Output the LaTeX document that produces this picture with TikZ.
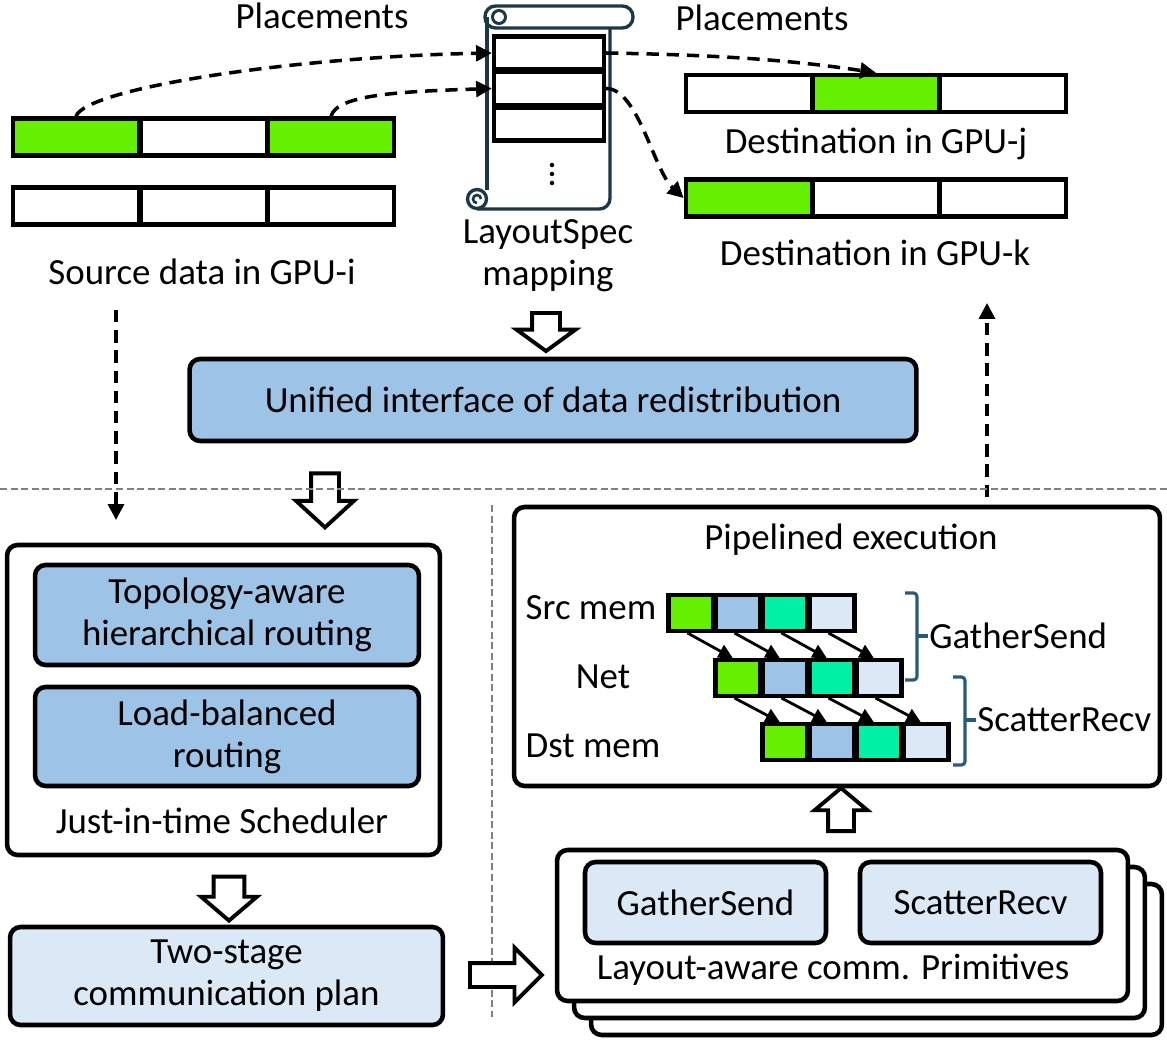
\documentclass[tikz,border=0pt]{standalone}
\usepackage{fontspec}
\setmainfont{Carlito}
\usepackage{tikz}
\usetikzlibrary{shapes,shapes.arrows,arrows.meta,positioning,calc}

\definecolor{gpugreen}{RGB}{100,240,0}
\definecolor{midblue}{RGB}{157,195,230}
\definecolor{paleblue}{RGB}{219,232,245}
\definecolor{mintgreen}{RGB}{0,240,165}
\definecolor{scrollink}{RGB}{28,56,70}
\definecolor{bracecol}{RGB}{38,92,122}

\begin{document}
\begin{tikzpicture}[
        x=0.02cm, y=-0.02cm,
        font=\fontsize{21}{24}\selectfont,
        cell/.style={rectangle, draw, line width=2.5pt, minimum width=2.53cm, minimum height=0.74cm, inner sep=0pt},
        slot/.style={rectangle, draw, line width=2.4pt, minimum width=2.2cm, minimum height=0.66cm, inner sep=0pt},
        pcell/.style={rectangle, draw, line width=2.3pt, minimum width=0.9cm, minimum height=0.72cm, inner sep=0pt},
        panel/.style={rectangle, draw, rounded corners=6pt, line width=2.6pt, fill=white, align=center},
        bluebox/.style={panel, fill=midblue},
        palebox/.style={panel, fill=paleblue},
        flow/.style={draw, line width=2pt, dash pattern=on 7pt off 4.5pt, -{Triangle[length=9pt, width=9pt]}},
        divider/.style={draw, black!50, line width=1.1pt, dash pattern=on 4pt off 2pt},
        hollow/.style={single arrow, draw, line width=2.2pt, fill=white,
                single arrow head indent=0pt},
        bracket/.style={draw, bracecol, line width=1.8pt, rounded corners=2pt},
        pipe/.style={draw, line width=1.6pt, -{Triangle[length=8pt, width=8pt]}},
    ]
    \useasboundingbox (0,0) rectangle (1167,1047);

    % ── Source data in GPU-i ──────────────────────────────
    \node (plleft) at (322,16) {Placements};
    \foreach \i/\xx/\col in {2/204/white,1/76/gpugreen,3/331/gpugreen}{
        \node[cell, fill=\col] (sa\i) at (\xx,137) {};
    }
    \foreach \i/\xx in {1/76,2/204,3/331}{
        \node[cell] (sb\i) at (\xx,206) {};
    }
    \node (srclbl) at (202,272) {Source data in GPU-i};

    % ── LayoutSpec scroll ─────────────────────────────────
    \draw[scrollink, line width=1.9pt, fill=white, rounded corners=6pt] (485,6) rectangle (633,28);
    \draw[scrollink, line width=1.7pt] (499,17) circle[radius=0.13cm];
    \draw[scrollink, line width=1.9pt] (487,17) -- (487,190);
    \draw[scrollink, line width=1.9pt, rounded corners=6pt] (610,28) -- (610,209) -- (477,209);
    \draw[scrollink, line width=1.9pt] (477,199) circle[radius=0.19cm];
    \draw[scrollink, line width=1.5pt] (481,199) arc[start angle=0, end angle=270, radius=0.08cm];
    \node[slot] (lr1) at (549,53) {};
    \node[slot] (lr2) at (549,88.5) {};
    \node[slot] (lr3) at (549,124) {};
    \foreach \yy in {165,174,183}{
        \fill (552,\yy) circle[radius=0.045cm];
    }
    \node[align=center] (speclbl) at (548,256) {LayoutSpec\\mapping};

    % ── Destinations ──────────────────────────────────────
    \node (plright) at (762,18) {Placements};
    \foreach \i/\xx/\col in {1/749/white,3/1003/white,2/876/gpugreen}{
        \node[cell, fill=\col] (dj\i) at (\xx,93.5) {};
    }
    \foreach \i/\xx/\col in {2/876/white,3/1003/white,1/749/gpugreen}{
        \node[cell, fill=\col] (dk\i) at (\xx,198) {};
    }
    \node (djlbl) at (876,144) {Destination in GPU-j};
    \node (dklbl) at (875,253) {Destination in GPU-k};

    % placements through the mapping
    \draw[flow] (sa1.north) .. controls +(10,-28) and +(-200,4) .. (lr1.west);
    \draw[flow] (sa3.north) .. controls +(6,-22) and +(-90,3) .. (lr2.west);
    \draw[flow] (lr1.east) .. controls +(120,2) and +(-80,-12) .. (dj2.north);
    \draw[flow] (lr2.east) .. controls +(32,0) and +(-30,-28) .. (dk1.west);

    % ── Unified interface ─────────────────────────────────
    \node[hollow, shape border rotate=270, inner sep=0.24cm, minimum height=0.76cm, minimum width=1.1cm,
          single arrow head extend=0.31cm, single arrow tip angle=108] (specarr) at (546,327) {};
    \node[bluebox, minimum width=14.54cm, minimum height=1.64cm] (unified) at (553,400)
        {Unified interface of data redistribution};
    \node[hollow, shape border rotate=270, inner sep=0.24cm, minimum height=1.08cm, minimum width=1.08cm,
          single arrow head extend=0.3cm, single arrow tip angle=95] (uniarr) at (325,494) {};

    \coordinate (srcdrop) at (116,310);
    \coordinate (jitin) at (116,520);
    \draw[flow] (srcdrop) -- (jitin);
    \coordinate (plout) at (987,497);
    \coordinate (dstup) at (987,303);
    \draw[flow] (plout) -- (dstup);

    \draw[divider] (0,489) -- (1167,489);
    \draw[divider] (492,505) -- (492,1017);

    % ── Just-in-time scheduler ────────────────────────────
    \node[panel, minimum width=8.66cm, minimum height=6.2cm] (sched) at (223.5,700) {};
    \node[bluebox, minimum width=7.68cm, minimum height=2.0cm] (topo) at (227,615)
        {Topology-aware\\hierarchical routing};
    \node[bluebox, minimum width=7.68cm, minimum height=1.98cm] (loadbal) at (227,736.5)
        {Load-balanced\\routing};
    \node (schedlbl) at (222,821) {Just-in-time Scheduler};
    \node[hollow, shape border rotate=270, inner sep=0.27cm, minimum height=0.74cm, minimum width=1.04cm,
          single arrow head extend=0.25cm, single arrow tip angle=99] (schedarr) at (229,892) {};
    \node[palebox, minimum width=8.66cm, minimum height=1.96cm] (plan) at (226.5,976)
        {Two-stage\\communication plan};
    \node[hollow, inner sep=0.2cm, minimum height=1.44cm, minimum width=1.02cm,
          single arrow head extend=0.31cm, single arrow tip angle=90] (planarr) at (500,975) {};

    % ── Pipelined execution ───────────────────────────────
    \node[panel, minimum width=12.92cm, minimum height=5.58cm] (pipeline) at (837,646.5) {};
    \node (pipelbl) at (851,540) {Pipelined execution};
    \node (srcmem) at (591,608) {Src mem};
    \node (netlbl) at (603,677) {Net};
    \node (dstmem) at (593,746) {Dst mem};
    \foreach \i/\col in {1/gpugreen,2/midblue,3/mintgreen,4/paleblue}{
        \node[pcell, fill=\col] (src\i) at (644+47*\i,613) {};
        \node[pcell, fill=\col] (net\i) at (691+47*\i,678) {};
        \node[pcell, fill=\col] (dst\i) at (738+47*\i,742) {};
    }
    \foreach \i in {1,...,4}{
        \draw[pipe] ([xshift=-2pt]src\i.south) -- ([xshift=-3pt]net\i.north);
        \draw[pipe] ([xshift=-2pt]net\i.south) -- ([xshift=-3pt]dst\i.north);
    }
    \draw[bracket] (905,593) -- (917,593) -- (917,680) -- (905,680);
    \draw[bracket] (917,636) -- (928,636);
    \node[anchor=west, inner sep=0pt] (gslbl) at (929,636) {GatherSend};
    \draw[bracket] (953,677) -- (965,677) -- (965,765) -- (953,765);
    \draw[bracket] (965,720) -- (976,720);
    \node[anchor=west, inner sep=0pt] (srlbl) at (977,720) {ScatterRecv};

    % ── Layout-aware primitives ───────────────────────────
    \node[hollow, shape border rotate=90, inner sep=0.22cm, minimum height=0.86cm, minimum width=0.98cm,
          single arrow head extend=0.27cm, single arrow tip angle=100] (primarr) at (841,815) {};
    \foreach \k in {2,1}{
        \node[panel, minimum width=11.42cm, minimum height=3.02cm] (prim\k) at (842.5+17*\k,925.5+17*\k) {};
    }
    \node[panel, minimum width=11.42cm, minimum height=3.02cm] (prim) at (842.5,925.5) {};
    \node[palebox, minimum width=4.82cm, minimum height=1.62cm] (gsend) at (705.5,902.5) {GatherSend};
    \node[palebox, minimum width=4.82cm, minimum height=1.62cm] (srecv) at (980.5,902.5) {ScatterRecv};
    \node (primlbl) at (833,970) {Layout-aware comm. Primitives};
\end{tikzpicture}
\end{document}
